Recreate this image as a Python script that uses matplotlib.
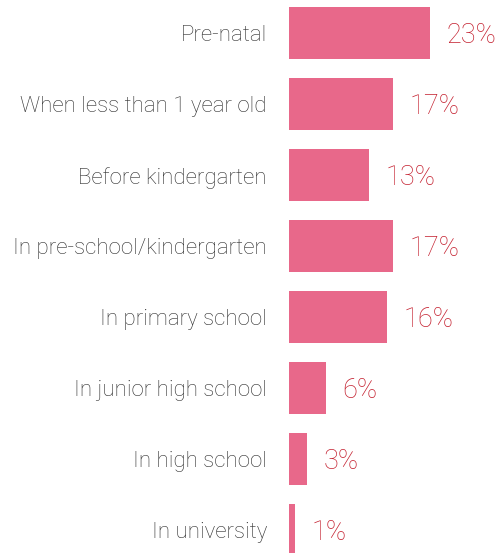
import matplotlib.pyplot as plt

stages = ["Pre-natal", "When less than 1 year old", "Before kindergarten",
          "In pre-school/kindergarten", "In primary school",
          "In junior high school", "In high school", "In university"]
shares = [23, 17, 13, 17, 16, 6, 3, 1]

plt.rcParams['font.family'] = ['Roboto', 'DejaVu Sans']

fig = plt.figure(figsize=(4.99, 5.53), dpi=100)
ax = fig.add_axes([289 / 499, 0, 1 - 289 / 499, 1])

y = list(range(len(stages)))
ax.barh(y, shares, height=0.73, color='#e8688a')
ax.set_xlim(0, 210 / 6.13)
ax.set_ylim(520 / 71, -33 / 71)

for yi, lab, v in zip(y, stages, shares):
    ax.text(-3.6, yi + 0.04, lab, ha='right', va='center', fontsize=16,
            fontweight='light', color='#2e2e2e')
    ax.text(v + 2.7, yi + 0.04, f"{v}%", ha='left', va='center', fontsize=19.5,
            fontweight='light', color='#c4202f')

ax.axis('off')
fig.savefig('out.png', dpi=100)
